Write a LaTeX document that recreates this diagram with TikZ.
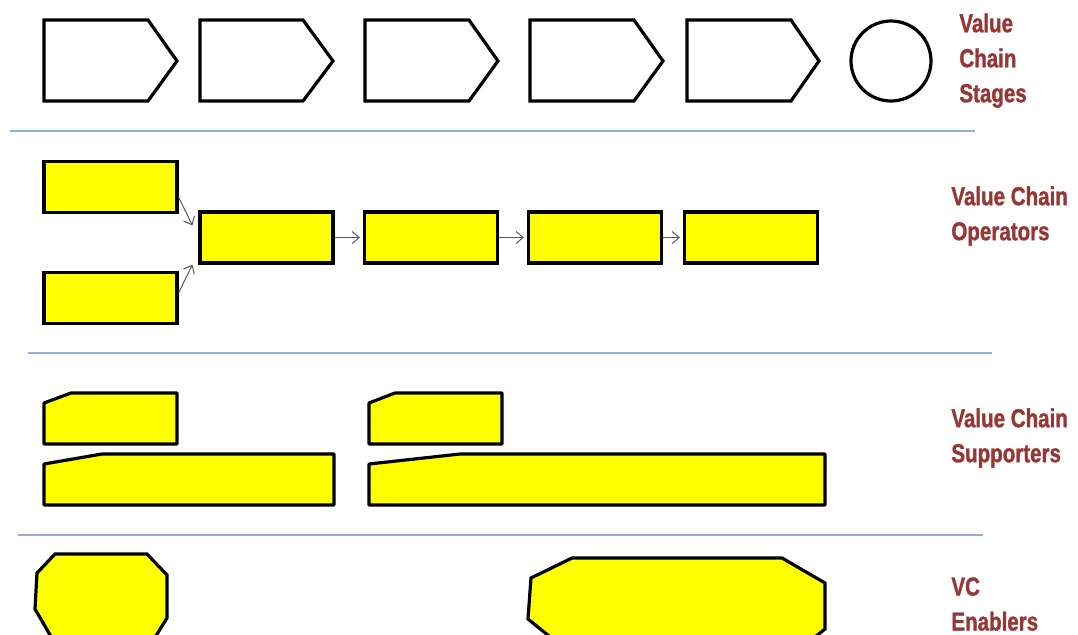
\documentclass[tikz,border=0pt]{standalone}
\usepackage{fontspec}
\newfontfamily\labfont{Liberation Sans}[FakeStretch=0.79,BoldFeatures={FakeStretch=0.79,FakeBold=1.2}]
\usetikzlibrary{arrows.meta,calc}
\definecolor{labred}{HTML}{953735}
\definecolor{seprule}{HTML}{8FB0DA}
\definecolor{opyellow}{HTML}{FFFF00}
\tikzset{
  stage/.style={draw=black,line width=1.6pt,line join=miter,fill=white},
  opbox/.style={draw=black,line width=1.6pt,fill=opyellow,rectangle,inner sep=0pt,minimum width=66.5pt,minimum height=25.5pt},
  sup/.style={draw=black,line width=1.6pt,fill=opyellow,line join=round},
  enab/.style={draw=black,line width=1.6pt,fill=opyellow,line join=miter},
  flow/.style={draw=black!65,line width=0.5pt,-{Straight Barb[length=3.5pt,width=6pt]}},
  sepline/.style={draw=seprule,line width=0.9pt},
  lab/.style={font=\labfont\bfseries\fontsize{13pt}{17.5pt}\selectfont,text=labred,align=left,anchor=north west,inner sep=0pt}
}
\begin{document}
\begin{tikzpicture}[x=0.5pt,y=-0.5pt]
\useasboundingbox[fill=white] (0,0) rectangle (1078,634);
% Value chain stages
\draw[stage] (44,20) -- (148,20) -- (177,61) -- (148,101) -- (44,101) -- cycle;
\draw[stage] (200,20) -- (303,20) -- (333,61) -- (303,101) -- (200,101) -- cycle;
\draw[stage] (365,20) -- (469,20) -- (498,61) -- (469,101) -- (365,101) -- cycle;
\draw[stage] (530,20) -- (634,20) -- (663,61) -- (634,101) -- (530,101) -- cycle;
\draw[stage] (687,20) -- (791,20) -- (819,61) -- (791,101) -- (687,101) -- cycle;
\draw[stage] (891,61) circle[radius=20pt];
\node[lab] (lstages) at (959,13) {Value\\Chain\\Stages};
% separators
\draw[sepline] (10,131) -- (975,131);
\draw[sepline] (28,353) -- (992,353);
\draw[sepline] (18,535) -- (983,535);
% operators
\node[opbox] (op1) at (110.5,187) {};
\node[opbox] (op2) at (110.5,298) {};
\node[opbox] (op3) at (266.5,237.5) {};
\node[opbox] (op4) at (431,237.5) {};
\node[opbox] (op5) at (595,237.5) {};
\node[opbox] (op6) at (751,237.5) {};
\draw[flow] ($(op1.south east)+(0,-17)$) -- ($(op3.north west)+(-6,15)$);
\draw[flow] ($(op2.north east)+(0,22)$) -- ($(op3.south west)+(-6,0)$);
\draw[flow,shorten >=1.5pt] (op3.east) -- (op4.west);
\draw[flow,shorten >=1.5pt] (op4.east) -- (op5.west);
\draw[flow,shorten >=1.5pt] (op5.east) -- (op6.west);
\node[lab] (lops) at (951,186) {Value Chain\\Operators};
% supporters
\draw[sup] (44,403) -- (71,393) -- (177,393) -- (177,444) -- (44,444) -- cycle;
\draw[sup] (44,464) -- (102,454) -- (334,454) -- (334,505) -- (44,505) -- cycle;
\draw[sup] (369,403) -- (395,393) -- (502,393) -- (502,444) -- (369,444) -- cycle;
\draw[sup] (369,464) -- (460,454) -- (825,454) -- (825,505) -- (369,505) -- cycle;
\node[lab] (lsup) at (951,408) {Value Chain\\Supporters};
% enablers
\begin{scope}
\clip (0,0) rectangle (1078,634);
\draw[enab] (55,554) -- (147,554) -- (167,575) -- (167,618) -- (146,652) -- (60,652) -- (35,609) -- (37,573) -- cycle;
\draw[enab] (572,558) -- (782,558) -- (825,583) -- (825,629) -- (805,645) -- (560,645) -- (528,619) -- (531,578) -- cycle;
\end{scope}
\node[lab] (lenab) at (951,577) {VC\\Enablers};
\end{tikzpicture}
\end{document}
